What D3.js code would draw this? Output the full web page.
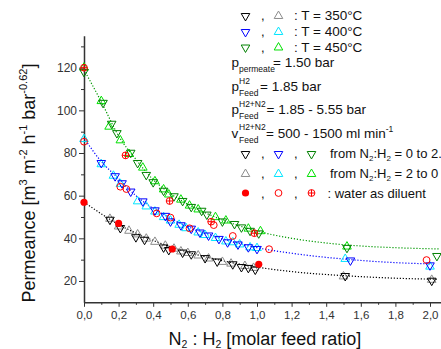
<!DOCTYPE html>
<html>
<head>
  <script src="https://cdn.jsdelivr.net/npm/d3@7/dist/d3.min.js"></script>
  <style>
    html, body { margin: 0; padding: 0; background: #fff; }
    svg { display: block; font-family: "Liberation Sans", Arial, sans-serif; }
    .axis path, .axis line { stroke: #333; }
    .axis text { fill: #333; }
    .fit { fill: none; stroke-width: 1.2px; stroke-dasharray: 1.2, 1.8; }
  </style>
</head>
<body>
  <svg class="svg" width="441" height="349"></svg>
  <script>
    // measured points [ratio, permeance]
    var t350Up = [[0.15, 49.2], [0.21, 45.3], [0.30, 41.0], [0.35, 39.8], [0.46, 36.2], [0.49, 35.0], [0.57, 33.8], [0.62, 33.0], [0.70, 31.2], [0.77, 29.6], [0.86, 28.3], [0.91, 27.0], [0.95, 26.6], [0.99, 25.8], [1.51, 22.8], [2.01, 20.6]];
    var t350Down = [[0.15, 49.6], [0.20, 46.0], [0.26, 44.0], [0.31, 42.3], [0.36, 40.3], [0.41, 38.8], [0.47, 37.0], [0.52, 35.6], [0.56, 34.3], [0.60, 33.6], [0.66, 32.4], [0.72, 31.0], [0.80, 29.4], [0.85, 28.6], [0.93, 27.5], [0.98, 26.6], [1.50, 22.6], [2.01, 21.0]];
    var t400Up = [[0.10, 75.8], [0.18, 69.6], [0.22, 66.3], [0.27, 62.4], [0.34, 57.8], [0.41, 53.6], [0.47, 51.0], [0.50, 48.4], [0.56, 46.6], [0.62, 45.0], [0.67, 43.2], [0.72, 41.8], [0.78, 40.2], [0.83, 38.6], [0.89, 37.6], [0.95, 36.3], [1.00, 35.5], [1.54, 30.1], [2.00, 27.8]];
    var t400Down = [[0.00, 87.0], [0.10, 75.2], [0.17, 69.8], [0.21, 66.0], [0.31, 57.8], [0.36, 55.4], [0.41, 53.0], [0.46, 50.4], [0.50, 48.8], [0.55, 46.8], [0.59, 45.2], [0.66, 43.2], [0.70, 42.0], [0.76, 40.6], [0.82, 39.0], [0.86, 38.6], [0.90, 37.6], [0.96, 36.2], [1.00, 35.9], [1.51, 30.8], [2.00, 27.2]];
    var t450Up = [[0.00, 118.5], [0.11, 104.0], [0.16, 94.2], [0.19, 89.8], [0.27, 80.6], [0.31, 75.8], [0.36, 70.2], [0.40, 66.8], [0.46, 62.8], [0.52, 60.2], [0.57, 58.0], [0.62, 55.2], [0.68, 53.4], [0.71, 51.6], [0.80, 48.4], [0.87, 47.2], [0.91, 45.6], [0.96, 44.0], [1.01, 42.8], [1.52, 36.0], [2.04, 32.2]];
    var t450Down = [[0.00, 120.5], [0.10, 104.8], [0.145, 92.8], [0.21, 86.4], [0.26, 80.0], [0.34, 73.6], [0.41, 67.2], [0.46, 63.4], [0.49, 61.0], [0.56, 58.6], [0.61, 55.8], [0.66, 54.0], [0.76, 50.4], [0.82, 48.8], [0.95, 45.0], [1.02, 43.8], [1.52, 36.6]];
    var water350 = [[0.00, 56.9], [0.20, 47.0], [0.51, 35.0], [1.01, 27.8]];
    var water400 = [[0.00, 85.3], [0.21, 64.2], [0.245, 63.1], [0.42, 51.7], [0.50, 49.7], [0.61, 44.7], [0.75, 46.2], [0.86, 41.1], [1.07, 34.9], [1.98, 29.8]];
    var water450 = [[0.00, 120.0], [0.24, 78.9], [0.495, 57.5], [0.735, 47.8], [0.985, 42.4]];

    // dotted fit curves
    var fit350 = [[0, 57], [0.2, 46.5], [0.4, 39], [0.6, 33.5], [0.8, 29.5], [1.0, 26.5], [1.2, 24.4], [1.5, 22.5], [1.8, 21.3], [2.04, 20.8]];
    var fit400 = [[0, 87], [0.1, 76], [0.2, 68], [0.3, 60], [0.4, 54], [0.5, 49.5], [0.6, 45.5], [0.7, 42.5], [0.8, 39.8], [0.9, 37.5], [1.0, 35.6], [1.2, 33], [1.5, 30.3], [1.8, 28.6], [2.0, 28]];
    var fit450 = [[0, 119], [0.1, 104], [0.2, 88], [0.3, 77], [0.4, 67.5], [0.5, 61], [0.6, 56], [0.7, 52], [0.8, 48.6], [0.9, 45.8], [1.0, 43.4], [1.2, 40], [1.4, 37.8], [1.6, 36.4], [1.8, 35.6], [2.06, 35]];

    var xTicks = [0, 0.2, 0.4, 0.6, 0.8, 1.0, 1.2, 1.4, 1.6, 1.8, 2.0];
    var yTicks = [20, 40, 60, 80, 100, 120];

    var svg = d3.select('.svg');

    var xScale = d3.scaleLinear().domain([0, 2.1]).range([84, 84 + 2.1 * 173]);
    var yScale = d3.scaleLinear().domain([10, 135]).range([302.3, 35.7]);

    var fmt = d => d3.format('.1f')(d).replace('.', ',');

    // minor ticks
    svg.append('g')
      .attr('class', 'axis')
      .attr('transform', 'translate(0,' + yScale(10) + ')')
      .call(d3.axisBottom(xScale).tickValues(d3.range(0.1, 2.1, 0.2)).tickSize(2.5).tickFormat('').tickSizeOuter(0))
      .select('.domain').remove();
    svg.append('g')
      .attr('class', 'axis')
      .attr('transform', 'translate(' + xScale(0) + ',0)')
      .call(d3.axisLeft(yScale).tickValues(d3.range(30, 136, 20)).tickSize(3).tickFormat('').tickSizeOuter(0))
      .select('.domain').remove();

    // main axes
    var xAxis = svg.append('g')
      .attr('class', 'axis')
      .attr('transform', 'translate(0,' + yScale(10) + ')')
      .call(d3.axisBottom(xScale).tickValues(xTicks).tickSize(4.5).tickSizeOuter(0).tickPadding(4).tickFormat(fmt));
    xAxis.selectAll('text').attr('font-size', 11.5).attr('font-family', 'Liberation Sans, Arial, sans-serif');
    xAxis.select('.domain').attr('stroke-width', 1.5);

    var yAxis = svg.append('g')
      .attr('class', 'axis')
      .attr('transform', 'translate(' + xScale(0) + ',0)')
      .call(d3.axisLeft(yScale).tickValues(yTicks).tickSize(5).tickSizeOuter(0).tickPadding(2));
    yAxis.selectAll('text').attr('font-size', 12).attr('font-family', 'Liberation Sans, Arial, sans-serif');
    yAxis.select('.domain').attr('stroke-width', 1.5);

    // fit lines
    var line = d3.line()
      .x(d => xScale(d[0]))
      .y(d => yScale(d[1]))
      .curve(d3.curveMonotoneX);

    [[fit350, '#000'], [fit400, '#0000ff'], [fit450, '#009900']].forEach(function (f) {
      svg.append('path').attr('class', 'fit').attr('stroke', f[1]).attr('d', line(f[0]));
    });

    // markers
    var tri = d3.symbol().type(d3.symbolTriangle).size(32);

    function drawMarker(g, kind, color) {
      if (kind === 'down') {
        g.append('path').attr('d', tri).attr('transform', 'rotate(180) translate(0,-1)')
          .attr('fill', 'none').attr('stroke', color).attr('stroke-width', 1);
      } else if (kind === 'up') {
        g.append('path').attr('d', tri).attr('transform', 'translate(0,1)')
          .attr('fill', 'none').attr('stroke', color).attr('stroke-width', 1);
      } else if (kind === 'dot') {
        g.append('circle').attr('r', 3.6).attr('fill', color);
      } else if (kind === 'ring') {
        g.append('circle').attr('r', 3.4).attr('fill', 'none').attr('stroke', color).attr('stroke-width', 1);
      } else if (kind === 'cross') {
        g.append('circle').attr('r', 3.4).attr('fill', 'none').attr('stroke', color).attr('stroke-width', 1);
        g.append('path').attr('d', 'M-3.4,0H3.4M0,-3.4V3.4').attr('stroke', color).attr('stroke-width', 1);
      }
    }

    var series = [
      [t350Down, 'up', '#8c8c8c'],
      [t350Up, 'down', '#000'],
      [t400Down, 'up', '#00e5ff'],
      [t400Up, 'down', '#0000ff'],
      [t450Down, 'up', '#00e000'],
      [t450Up, 'down', '#008000'],
      [water350, 'dot', '#ff0000'],
      [water400, 'ring', '#ff0000'],
      [water450, 'cross', '#ff0000']
    ];

    series.forEach(function (s) {
      svg.append('g').selectAll('g')
        .data(s[0])
        .enter()
        .append('g')
        .attr('transform', d => 'translate(' + xScale(d[0]) + ',' + yScale(d[1]) + ')')
        .each(function () { drawMarker(d3.select(this), s[1], s[2]); });
    });

    // axis titles
    var yt = svg.append('text')
      .attr('transform', 'translate(34.5,183) rotate(-90)')
      .attr('text-anchor', 'middle')
      .attr('font-size', 18)
      .attr('fill', '#111');
    yt.append('tspan').text('Permeance [m');
    yt.append('tspan').attr('font-size', 11).attr('dy', -8).text('3');
    yt.append('tspan').attr('dy', 8).text(' m');
    yt.append('tspan').attr('font-size', 11).attr('dy', -8).text('-2');
    yt.append('tspan').attr('dy', 8).text(' h');
    yt.append('tspan').attr('font-size', 11).attr('dy', -8).text('-1');
    yt.append('tspan').attr('dy', 8).text(' bar');
    yt.append('tspan').attr('font-size', 11).attr('dy', -8).text('-0.62');
    yt.append('tspan').attr('dy', 8).text(']');

    var xt = svg.append('text')
      .attr('x', 265).attr('y', 344.5)
      .attr('text-anchor', 'middle')
      .attr('font-size', 18)
      .attr('fill', '#111');
    xt.append('tspan').text('N');
    xt.append('tspan').attr('font-size', 10.5).attr('dy', 3).text('2');
    xt.append('tspan').attr('dy', -3).text(' : H');
    xt.append('tspan').attr('font-size', 10.5).attr('dy', 3).text('2');
    xt.append('tspan').attr('dy', -3).text(' [molar feed ratio]');

    // legend
    var leg = svg.append('g').attr('font-size', 13).attr('fill', '#111');

    var tempRows = [
      ['#000', '#8c8c8c', ': T = 350\u00b0C', 15],
      ['#0000ff', '#00e5ff', ': T = 400\u00b0C', 31],
      ['#008000', '#00e000', ': T = 450\u00b0C', 46.5]
    ];
    tempRows.forEach(function (r) {
      drawMarker(leg.append('g').attr('transform', 'translate(245.5,' + r[3] + ')'), 'down', r[0]);
      leg.append('text').attr('x', 261).attr('y', r[3] + 5).text(',');
      drawMarker(leg.append('g').attr('transform', 'translate(278.5,' + r[3] + ')'), 'up', r[1]);
      leg.append('text').attr('x', 294).attr('y', r[3] + 5).attr('font-size', 13.5).text(r[2]);
    });

    // pressures and flow
    leg.append('text').attr('x', 231.5).attr('y', 67).attr('font-size', 13.5).text('p');
    leg.append('text').attr('x', 239).attr('y', 72).attr('font-size', 8.5).text('permeate');
    leg.append('text').attr('x', 273).attr('y', 67).attr('font-size', 13.5).text('= 1.50 bar');

    leg.append('text').attr('x', 231.5).attr('y', 90.5).attr('font-size', 13.5).text('p');
    leg.append('text').attr('x', 239).attr('y', 83.5).attr('font-size', 8.5).text('H2');
    leg.append('text').attr('x', 239).attr('y', 95.5).attr('font-size', 8.5).text('Feed');
    leg.append('text').attr('x', 260).attr('y', 90.5).attr('font-size', 13.5).text('= 1.85 bar');

    leg.append('text').attr('x', 231.5).attr('y', 114).attr('font-size', 13.5).text('p');
    leg.append('text').attr('x', 239).attr('y', 106.5).attr('font-size', 8.5).text('H2+N2');
    leg.append('text').attr('x', 239).attr('y', 119).attr('font-size', 8.5).text('Feed');
    leg.append('text').attr('x', 266.5).attr('y', 114).attr('font-size', 13.5).text('= 1.85 - 5.55 bar');

    leg.append('text').attr('x', 231.5).attr('y', 137.5).attr('font-size', 13.5).text('v');
    leg.append('text').attr('x', 239).attr('y', 130).attr('font-size', 8.5).text('H2+N2');
    var vt = leg.append('text').attr('x', 266).attr('y', 137.5).attr('font-size', 13.5);
    vt.append('tspan').text('= 500 - 1500 ml min');
    vt.append('tspan').attr('font-size', 8.5).attr('dy', -6).text('-1');
    leg.append('text').attr('x', 239).attr('y', 142.5).attr('font-size', 8.5).text('Feed');

    var symRows = [
      [['down', '#000'], ['down', '#0000ff'], ['down', '#008000'], 153, 'from N', '2', ':H', '2', ' = 0 to 2.', 330],
      [['up', '#8c8c8c'], ['up', '#00e5ff'], ['up', '#00e000'], 173, 'from N', '2', ':H', '2', ' = 2 to 0', 330],
      [['dot', '#ff0000'], ['ring', '#ff0000'], ['cross', '#ff0000'], 193, ': water as diluent', null, null, null, null, 327.5]
    ];
    symRows.forEach(function (r) {
      var y = r[3];
      [245.5, 278.5, 311.5].forEach(function (x, i) {
        drawMarker(leg.append('g').attr('transform', 'translate(' + x + ',' + y + ')'), r[i][0], r[i][1]);
      });
      leg.append('text').attr('x', 261).attr('y', y + 5).text(',');
      leg.append('text').attr('x', 294).attr('y', y + 5).text(',');
      var t = leg.append('text').attr('x', r[9]).attr('y', y + 5);
      t.append('tspan').text(r[4]);
      if (r[5]) {
        t.append('tspan').attr('font-size', 8).attr('dy', 3).text(r[5]);
        t.append('tspan').attr('dy', -3).text(r[6]);
        t.append('tspan').attr('font-size', 8).attr('dy', 3).text(r[7]);
        t.append('tspan').attr('dy', -3).text(r[8]);
      }
    });
  </script>
</body>
</html>
